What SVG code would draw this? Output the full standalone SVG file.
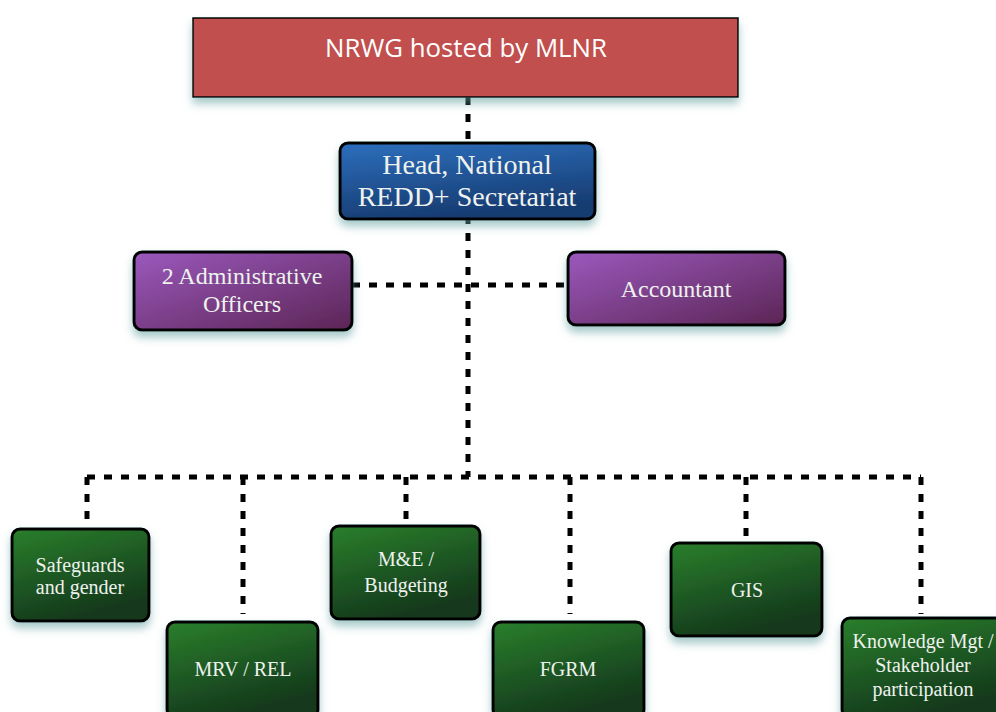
<svg xmlns="http://www.w3.org/2000/svg" width="996" height="712" viewBox="0 0 996 712">
  <defs>
    <linearGradient id="gBlue" x1="0" y1="0" x2="0.3" y2="1">
      <stop offset="0" stop-color="#2d6fbd"/>
      <stop offset="1" stop-color="#173c72"/>
    </linearGradient>
    <linearGradient id="gPurple" x1="0" y1="0" x2="1" y2="1">
      <stop offset="0" stop-color="#9b59bd"/>
      <stop offset="1" stop-color="#5b2555"/>
    </linearGradient>
    <linearGradient id="gGreen" x1="0" y1="0" x2="0.4" y2="1">
      <stop offset="0" stop-color="#2a7f2c"/>
      <stop offset="1" stop-color="#14381c"/>
    </linearGradient>
    <filter id="shadow" x="-10%" y="-10%" width="120%" height="140%">
      <feDropShadow dx="0" dy="6" stdDeviation="4" flood-color="#5f9c9c" flood-opacity="0.55"/>
    </filter>
  </defs>
  <style>
    .dash { fill: none; stroke: #000; stroke-width: 5; stroke-dasharray: 8 9; }
    .box { stroke: #000; stroke-width: 3; filter: url(#shadow); }
    .serif { font-family: "Liberation Serif", "DejaVu Serif", serif; fill: #eef2ee; text-anchor: middle; }
    .big { font-size: 28px; }
    .mid { font-size: 24px; }
    .small { font-size: 20px; }
  </style>
  <rect width="996" height="712" fill="#ffffff"/>

  <g id="connectors">
    <line class="dash" x1="468" y1="97" x2="468" y2="477"/>
    <line class="dash" x1="352" y1="285" x2="568" y2="285"/>
    <line class="dash" x1="87" y1="477" x2="921" y2="477"/>
    <line class="dash" x1="87" y1="477" x2="87" y2="522"/>
    <line class="dash" x1="243" y1="477" x2="243" y2="614"/>
    <line class="dash" x1="406" y1="477" x2="406" y2="522"/>
    <line class="dash" x1="570" y1="477" x2="570" y2="614"/>
    <line class="dash" x1="746" y1="477" x2="746" y2="540"/>
    <line class="dash" x1="921" y1="477" x2="921" y2="614"/>
  </g>

  <g id="nrwg">
    <rect x="193" y="18" width="545" height="79" fill="#c0504d" stroke="#000" stroke-width="1.5" filter="url(#shadow)"/>
    <text x="466" y="57" font-family="Open Sans, Liberation Sans, Arial, sans-serif" font-size="25.8" fill="#ffffff" text-anchor="middle">NRWG hosted by MLNR</text>
  </g>

  <g id="head">
    <rect class="box" x="340" y="143" width="255" height="76" rx="8" fill="url(#gBlue)"/>
    <text class="serif big" x="467" y="174">Head, National</text>
    <text class="serif big" x="467" y="206">REDD+ Secretariat</text>
  </g>

  <g id="admin">
    <rect class="box" x="134" y="252" width="218" height="78" rx="8" fill="url(#gPurple)"/>
    <text class="serif mid" x="242" y="284">2 Administrative</text>
    <text class="serif mid" x="242" y="312">Officers</text>
  </g>

  <g id="accountant">
    <rect class="box" x="568" y="252" width="217" height="73" rx="8" fill="url(#gPurple)"/>
    <text class="serif mid" x="676" y="297">Accountant</text>
  </g>

  <g id="safeguards">
    <rect class="box" x="12" y="529" width="137" height="92" rx="8" fill="url(#gGreen)"/>
    <text class="serif small" x="80" y="572">Safeguards</text>
    <text class="serif small" x="80" y="594">and gender</text>
  </g>

  <g id="mrv">
    <rect class="box" x="167" y="622" width="151" height="96" rx="8" fill="url(#gGreen)"/>
    <text class="serif small" x="243" y="676">MRV / REL</text>
  </g>

  <g id="me">
    <rect class="box" x="331" y="526" width="149" height="93" rx="8" fill="url(#gGreen)"/>
    <text class="serif small" x="406" y="566">M&amp;E /</text>
    <text class="serif small" x="406" y="592">Budgeting</text>
  </g>

  <g id="fgrm">
    <rect class="box" x="493" y="622" width="151" height="96" rx="8" fill="url(#gGreen)"/>
    <text class="serif small" x="568" y="676">FGRM</text>
  </g>

  <g id="gis">
    <rect class="box" x="671" y="543" width="151" height="93" rx="8" fill="url(#gGreen)"/>
    <text class="serif small" x="747" y="597">GIS</text>
  </g>

  <g id="knowledge">
    <rect class="box" x="842" y="618" width="170" height="100" rx="8" fill="url(#gGreen)"/>
    <text class="serif small" x="923" y="648">Knowledge Mgt /</text>
    <text class="serif small" x="923" y="672">Stakeholder</text>
    <text class="serif small" x="923" y="696">participation</text>
  </g>
</svg>
